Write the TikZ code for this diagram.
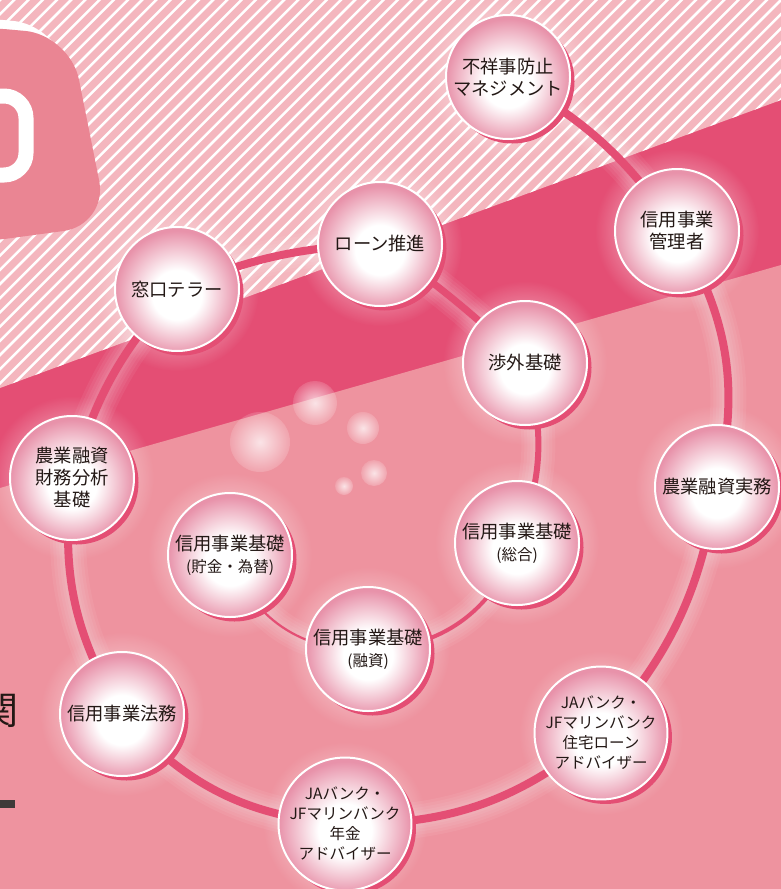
\documentclass[tikz,border=0pt]{standalone}
\usepackage{fontspec}
\setmainfont{Noto Sans CJK JP}
\usetikzlibrary{shadows,fadings}
\definecolor{stripebg}{RGB}{244,182,190}
\definecolor{bandpink}{RGB}{228,78,116}
\definecolor{lowpink}{RGB}{238,147,159}
\definecolor{tagpink}{RGB}{234,133,147}
\definecolor{edgepink}{RGB}{232,146,170}
\definecolor{inkgray}{RGB}{35,24,21}
\definecolor{bargray}{RGB}{62,58,57}
\pgfdeclareradialshading{ballshade}{\pgfpoint{0bp}{-3bp}}{color(0bp)=(white); color(10bp)=(white); color(25bp)=(edgepink); color(50bp)=(edgepink)}
\tikzfading[name=halofade, inner color=transparent!15, outer color=transparent!100]
\tikzfading[name=bubblefade, inner color=transparent!25, outer color=transparent!85]
\pgfdeclarelayer{back}
\pgfdeclarelayer{glow}
\pgfdeclarelayer{link}
\pgfsetlayers{back,glow,link,main}
\def\subline#1{{\fontsize{15.5bp}{18bp}\selectfont #1}}
\tikzset{
  ball/.style={circle, minimum size=124bp, inner sep=0pt, draw=white, line width=2bp,
    shade, shading=ballshade,
    drop shadow={shadow xshift=4.5bp, shadow yshift=-4.5bp, fill=bandpink, opacity=1},
    align=center, text=inkgray, font=\fontsize{18.3bp}{22bp}\selectfont},
  ballsmall/.style={ball, font=\fontsize{15.5bp}{20bp}\selectfont}
}

\begin{document}
\begin{tikzpicture}[x=1bp, y=-1bp]
			%%%%% START %%%%%
			\useasboundingbox (0,0) rectangle (781,889);

			\begin{pgfonlayer}{back}
			\fill[bandpink] (0,0) rectangle (781,889);
			\begin{scope}
				\clip (0,0) -- (781,0) -- (781,100) -- (0,388) -- cycle;
				\fill[stripebg] (0,0) rectangle (781,400);
				\foreach \i in {0,...,90}
					\draw[white, line width=2.5bp] (\i*14.2-420, 420) -- ++(440,-440);
			\end{scope}
			\fill[lowpink] (0,488) -- (781,265) -- (781,889) -- (0,889) -- cycle;

			% tag at top left
			\fill[white, rounded corners=45bp] (-52,15) -- (58,25) -- (96,215) -- (-52,235) -- cycle;
			\fill[tagpink, rounded corners=45bp] (-40,25) -- (70,35) -- (108,225) -- (-40,245) -- cycle;
			\draw[white, line width=15bp, rounded corners=22bp] (-40,96) rectangle (26,175);

			% bubbles
			\fill[white, path fading=bubblefade] (260,442) circle (30);
			\fill[white, path fading=bubblefade] (315,403) circle (22);
			\fill[white, path fading=bubblefade] (363,428) circle (16);
			\fill[white, path fading=bubblefade] (374,473) circle (13);
			\fill[white, path fading=bubblefade] (344,486) circle (9);

			\node[anchor=east, inner sep=0pt, text=inkgray, font=\fontsize{38bp}{40bp}\selectfont] (sidechar) at (19,711) {関};
			\fill[bargray] (0,800) rectangle (15,808);
			\end{pgfonlayer}

			% outer ring
			\node[ball] (fusho) at (508,77) {不祥事防止\\マネジメント};
			\node[ball] (kanri) at (677,231) {信用事業\\管理者};
			\node[ball] (jitsumu) at (717,487) {農業融資実務};
			\node[ballsmall] (jutaku) at (601,733) {JAバンク・\\JFマリンバンク\\住宅ローン\\アドバイザー};
			\node[ballsmall] (nenkin) at (345,824) {JAバンク・\\JFマリンバンク\\年金\\アドバイザー};
			\node[ball] (homu) at (122,714) {信用事業法務};
			\node[ball] (zaimu) at (72,478) {農業融資\\財務分析\\基礎};
			\node[ball] (madoguchi) at (177,289) {窓口テラー};
			\node[ball] (loan) at (380,244) {ローン推進};

			% inner ring
			\node[ball] (shogai) at (525,363) {渉外基礎};
			\node[ball] (sogo) at (517,543) {信用事業基礎\\\subline{(総合)}};
			\node[ball] (yushi) at (368,649) {信用事業基礎\\\subline{(融資)}};
			\node[ball] (chokin) at (230,555) {信用事業基礎\\\subline{(貯金・為替)}};

			\begin{pgfonlayer}{glow}
			\foreach \n in {fusho,kanri,jitsumu,jutaku,nenkin,homu,zaimu,madoguchi,loan,shogai,sogo,yushi,chokin}
				\fill[white, path fading=halofade] (\n.center) circle (82);
			\end{pgfonlayer}

			\foreach \a/\b/\bend/\w in {fusho/kanri/13/8, kanri/jitsumu/22/8, jitsumu/jutaku/16/8,
				jutaku/nenkin/20/8, nenkin/homu/22/8, homu/zaimu/19/8, zaimu/madoguchi/13/8,
				madoguchi/loan/10/8, loan/shogai/4/7, shogai/sogo/19/6, sogo/yushi/36/4, yushi/chokin/38/2.2}{
				\begin{pgfonlayer}{glow}
				\foreach \g in {28,22,16,10,5}
					\draw[white, opacity=0.06, line width=\w*1bp+\g*1bp] (\a.center) to[bend left=\bend] (\b.center);
				\end{pgfonlayer}
				\begin{pgfonlayer}{link}
				\draw[bandpink, line width=\w*1bp] (\a.center) to[bend left=\bend] (\b.center);
				\end{pgfonlayer}
			}
			%%%%% END %%%%%
\end{tikzpicture}
\end{document}
